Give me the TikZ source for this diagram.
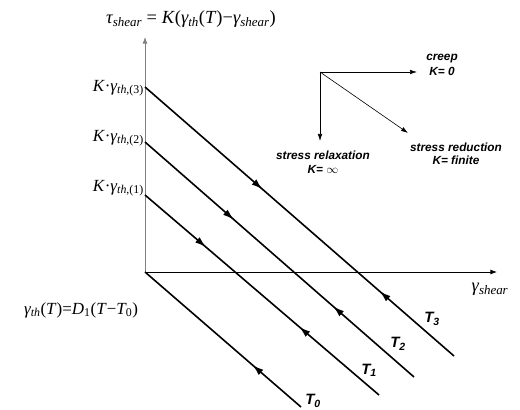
\documentclass[tikz,border=0pt]{standalone}
\usepackage{amsmath}
\usepackage{fontspec}
\newfontfamily\arialfont{Liberation Sans}
\newfontfamily\timesfont{Liberation Serif}
\usetikzlibrary{arrows.meta,positioning,decorations.markings}
\newcommand{\up}[1]{\textup{#1}}

\begin{document}
\begin{tikzpicture}[x=1pt,y=1pt,>=Latex,
 axis/.style={->,line width=0.8pt},
 tline/.style={line width=1.6pt},
 small/.style={-{Latex[length=7pt,width=4.5pt]},line width=0.6pt},
 lbl/.style={font=\arialfont\bfseries\itshape\fontsize{11.8}{13.5}\selectfont,align=center,inner sep=1pt},
 tlbl/.style={font=\arialfont\bfseries\itshape\fontsize{15}{17}\selectfont},
 mlbl/.style={font=\timesfont\itshape\fontsize{17}{20}\selectfont,inner sep=1pt},
 big/.style={font=\timesfont\itshape\fontsize{18.5}{22}\selectfont,inner sep=1pt},
 twoway/.style 2 args={postaction={decorate},decoration={markings,
   mark=at position #1 with {\arrow{Latex[length=11pt,width=7pt]}},
   mark=at position #2 with {\arrowreversed{Latex[length=11pt,width=7pt]}}}},
 upone/.style={postaction={decorate},decoration={markings,
   mark=at position #1 with {\arrowreversed{Latex[length=11pt,width=7pt]}}}}]
\useasboundingbox (0,0) rectangle (520,410);

% axes
\coordinate (o) at (145,138);
\coordinate (ytop) at (145,373);
\coordinate (xend) at (497,138);
\draw[axis,draw=gray] (o) -- (ytop);
\draw[axis] (o) -- (xend);

% isotherms T0..T3
\coordinate (k3) at (145,323);
\coordinate (k2) at (145,268);
\coordinate (k1) at (145,215);
\coordinate (e3) at (454,54);
\coordinate (e2) at (414,33);
\coordinate (e1) at (379,15);
\coordinate (e0) at (301,3);
\draw[tline,twoway={0.38}{0.76}] (k3) -- (e3);
\draw[tline,twoway={0.33}{0.70}] (k2) -- (e2);
\draw[tline,twoway={0.26}{0.66}] (k1) -- (e1);
\draw[tline,upone=0.69] (o) -- (e0);

\node[tlbl] (t3) at (432,91) {T\textsubscript{3}};
\node[tlbl] (t2) at (398,66) {T\textsubscript{2}};
\node[tlbl] (t1) at (369,40) {T\textsubscript{1}};
\node[tlbl] (t0) at (313,9) {T\textsubscript{0}};

% axis labels
\node[big,anchor=east] (tau) at (277,391) {τ\textsubscript{shear}\up{ = }K\up{(}γ\textsubscript{th}\up{(}T\up{)}\up{−}γ\textsubscript{shear}\up{)}};
\node[big] (gs) at (490,121) {γ\textsubscript{shear}};
\node[mlbl,anchor=east] (l3) at (145,322) {K\up{·}γ\textsubscript{th\up{,(3)}}};
\node[mlbl,anchor=east] (l2) at (145,272) {K\up{·}γ\textsubscript{th\up{,(2)}}};
\node[mlbl,anchor=east] (l1) at (145,222) {K\up{·}γ\textsubscript{th\up{,(1)}}};
\node[mlbl] (gth) at (81,100) {γ\textsubscript{th}\up{(}T\up{)=}D\textsubscript{\up{1}}\up{(}T\up{−}T\textsubscript{\up{0}}\up{)}};

% loading directions
\coordinate (c) at (320,338);
\coordinate (cr) at (417,338);
\coordinate (cd) at (320,269);
\coordinate (cs) at (408,277);
\draw[small] (c) -- (cr); \draw[small] (c) -- (cd); \draw[small] (c) -- (cs);
\node[lbl] (creep) at (442,345) {creep\\[2pt]K= 0};
\node[lbl] (relax) at (323,248) {stress relaxation\\K= $\infty$};
\node[lbl] (reduc) at (456,256) {stress reduction\\K= finite};
\end{tikzpicture}
\end{document}
